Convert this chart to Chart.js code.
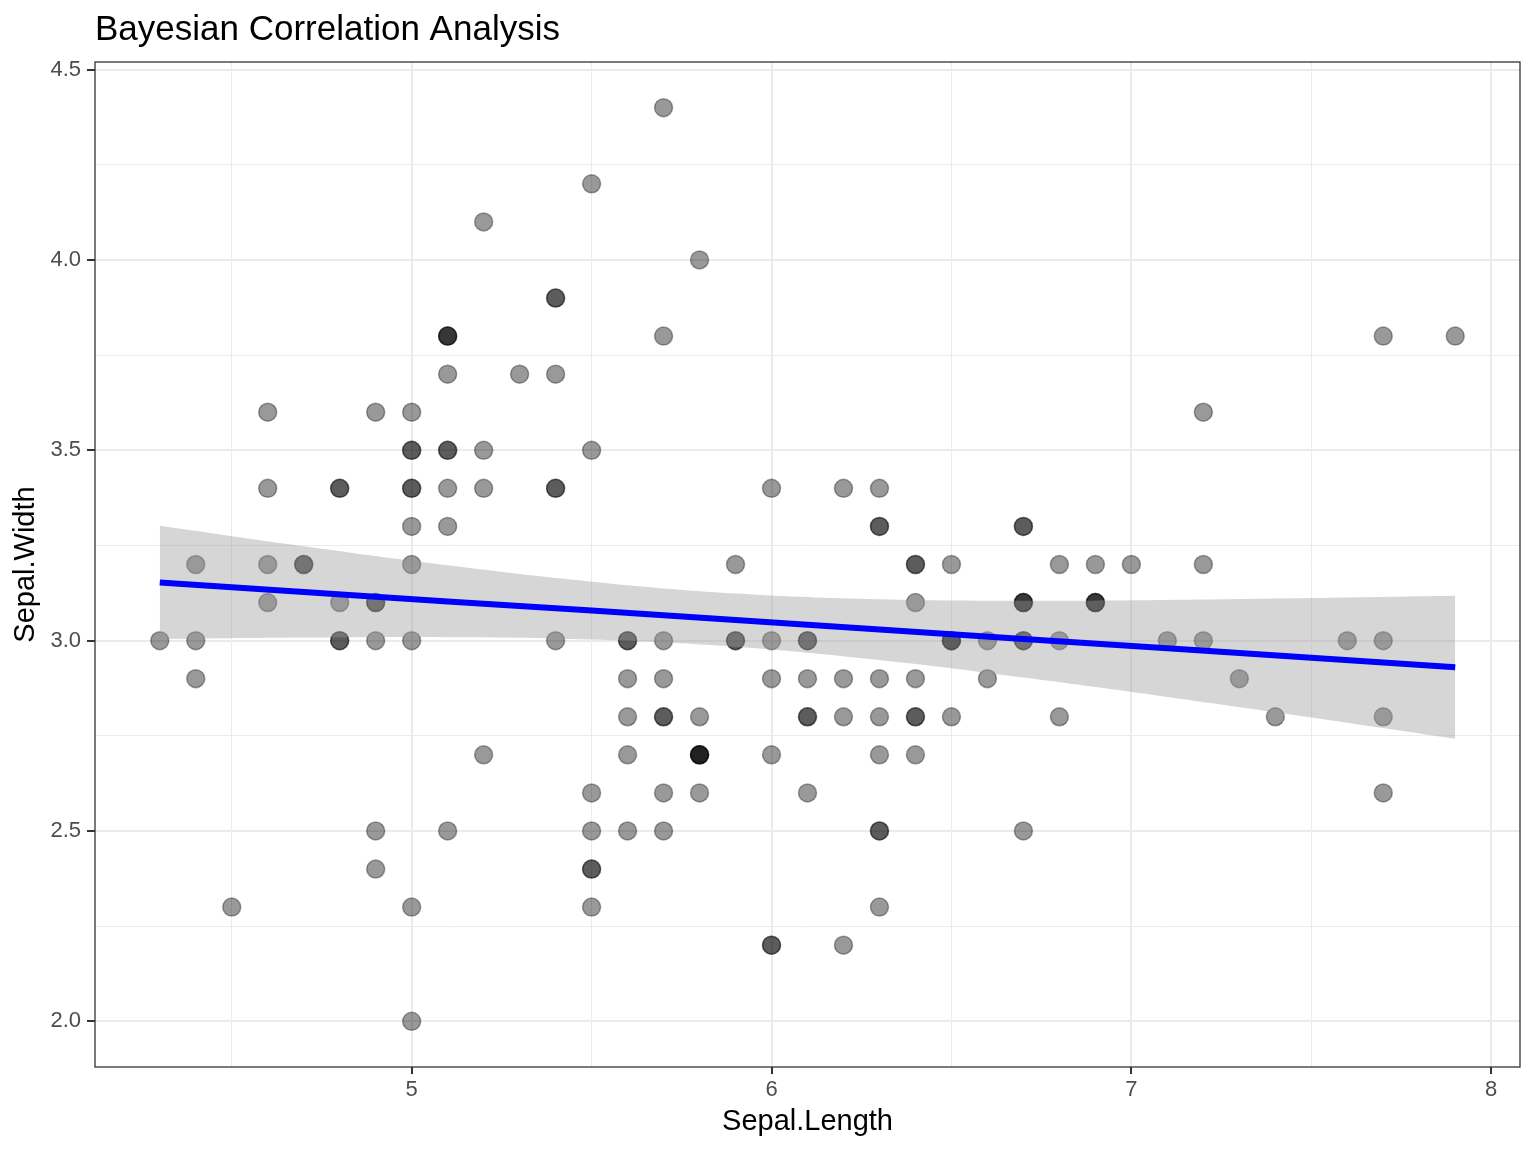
<!DOCTYPE html>
<html>
<head>
<meta charset="utf-8">
<script src="https://cdn.jsdelivr.net/npm/chart.js@4.4.1/dist/chart.umd.min.js"></script>
<style>
  html, body { margin: 0; padding: 0; background: #fff; }
  #c { display: block; }
</style>
</head>
<body>
<canvas id="c" width="1536" height="1152"></canvas>
<script>
// iris: Sepal.Length / Sepal.Width
const sepalLength = [
  5.1,4.9,4.7,4.6,5.0,5.4,4.6,5.0,4.4,4.9,5.4,4.8,4.8,4.3,5.8,5.7,5.4,5.1,5.7,5.1,
  5.4,5.1,4.6,5.1,4.8,5.0,5.0,5.2,5.2,4.7,4.8,5.4,5.2,5.5,4.9,5.0,5.5,4.9,4.4,5.1,
  5.0,4.5,4.4,5.0,5.1,4.8,5.1,4.6,5.3,5.0,
  7.0,6.4,6.9,5.5,6.5,5.7,6.3,4.9,6.6,5.2,5.0,5.9,6.0,6.1,5.6,6.7,5.6,5.8,6.2,5.6,
  5.9,6.1,6.3,6.1,6.4,6.6,6.8,6.7,6.0,5.7,5.5,5.5,5.8,6.0,5.4,6.0,6.7,6.3,5.6,5.5,
  5.5,6.1,5.8,5.0,5.6,5.7,5.7,6.2,5.1,5.7,
  6.3,5.8,7.1,6.3,6.5,7.6,4.9,7.3,6.7,7.2,6.5,6.4,6.8,5.7,5.8,6.4,6.5,7.7,7.7,6.0,
  6.9,5.6,7.7,6.3,6.7,7.2,6.2,6.1,6.4,7.2,7.4,7.9,6.4,6.3,6.1,7.7,6.3,6.4,6.0,6.9,
  6.7,6.9,5.8,6.8,6.7,6.7,6.3,6.5,6.2,5.9
];
const sepalWidth = [
  3.5,3.0,3.2,3.1,3.6,3.9,3.4,3.4,2.9,3.1,3.7,3.4,3.0,3.0,4.0,4.4,3.9,3.5,3.8,3.8,
  3.4,3.7,3.6,3.3,3.4,3.0,3.4,3.5,3.4,3.2,3.1,3.4,4.1,4.2,3.1,3.2,3.5,3.6,3.0,3.4,
  3.5,2.3,3.2,3.5,3.8,3.0,3.8,3.2,3.7,3.3,
  3.2,3.2,3.1,2.3,2.8,2.8,3.3,2.4,2.9,2.7,2.0,3.0,2.2,2.9,2.9,3.1,3.0,2.7,2.2,2.5,
  3.2,2.8,2.5,2.8,2.9,3.0,2.8,3.0,2.9,2.6,2.4,2.4,2.7,2.7,3.0,3.4,3.1,2.3,3.0,2.5,
  2.6,3.0,2.6,2.3,2.7,3.0,2.9,2.9,2.5,2.8,
  3.3,2.7,3.0,2.9,3.0,3.0,2.5,2.9,2.5,3.6,3.2,2.7,3.0,2.5,2.8,3.2,3.0,3.8,2.6,2.2,
  3.2,2.8,2.8,2.7,3.3,3.2,2.8,3.0,2.8,3.0,2.8,3.8,2.8,2.8,2.6,3.0,3.4,3.1,3.0,3.1,
  3.1,3.1,2.7,3.2,3.3,3.0,2.5,3.0,3.4,3.0
];

// fitted line and band
const bandX     = [4.3, 4.7, 5.1, 5.5, 5.9, 6.3, 6.7, 7.1, 7.5, 7.9];
const fitY      = [3.153, 3.128, 3.103, 3.079, 3.054, 3.029, 3.004, 2.980, 2.955, 2.930];
const bandUpper = [3.302, 3.248, 3.198, 3.155, 3.124, 3.109, 3.105, 3.107, 3.112, 3.118];
const bandLower = [3.004, 3.008, 3.009, 3.003, 2.984, 2.949, 2.903, 2.852, 2.798, 2.742];

const xTicks = [4.5, 5, 5.5, 6, 6.5, 7, 7.5, 8];
const xMajor = [5, 6, 7, 8];
const yTicks = [2.0, 2.25, 2.5, 2.75, 3.0, 3.25, 3.5, 3.75, 4.0, 4.25, 4.5];
const yMajor = [2.0, 2.5, 3.0, 3.5, 4.0, 4.5];

const titleText = 'Bayesian Correlation Analysis';
const FONT = '"Liberation Sans", Arial, Helvetica, sans-serif';

const isMajor = (list, v) => list.some(m => Math.abs(m - v) < 1e-9);

const points = sepalLength.map((x, i) => ({ x: x, y: sepalWidth[i] }));
const upper = bandX.map((x, i) => ({ x: x, y: bandUpper[i] }));
const lower = bandX.map((x, i) => ({ x: x, y: bandLower[i] }));
const fit = bandX.map((x, i) => ({ x: x, y: fitY[i] }));

const frameAndTitle = {
    id: 'frameAndTitle',
    afterDraw(chart) {
        const { ctx, chartArea: a } = chart;
        ctx.save();
        ctx.strokeStyle = '#333333';
        ctx.lineWidth = 1.3;
        ctx.strokeRect(a.left, a.top, a.right - a.left, a.bottom - a.top);
        ctx.fillStyle = '#000000';
        ctx.font = '35px ' + FONT;
        ctx.textBaseline = 'alphabetic';
        ctx.textAlign = 'left';
        ctx.fillText(titleText, a.left, 40);
        ctx.restore();
    }
};

const gridColor = '#EBEBEB';

new Chart(document.getElementById('c'), {
    type: 'scatter',
    data: {
        datasets: [
            {
                label: 'points',
                data: points,
                order: 3,
                pointRadius: 9,
                pointBackgroundColor: 'rgba(0,0,0,0.4)',
                pointBorderColor: 'rgba(0,0,0,0.35)',
                pointBorderWidth: 1.5,
                showLine: false
            },
            {
                label: 'upper',
                data: upper,
                order: 2,
                showLine: true,
                pointRadius: 0,
                borderWidth: 0,
                borderColor: 'rgba(0,0,0,0)',
                backgroundColor: 'rgba(153,153,153,0.4)',
                fill: '+1',
                tension: 0.4
            },
            {
                label: 'lower',
                data: lower,
                order: 2,
                showLine: true,
                pointRadius: 0,
                borderWidth: 0,
                borderColor: 'rgba(0,0,0,0)',
                fill: false,
                tension: 0.4
            },
            {
                label: 'fit',
                data: fit,
                order: 1,
                showLine: true,
                pointRadius: 0,
                borderColor: '#0000FF',
                borderWidth: 6,
                borderCapStyle: 'butt',
                fill: false
            }
        ]
    },
    options: {
        responsive: false,
        animation: false,
        devicePixelRatio: 1,
        layout: { padding: { top: 62, right: 16, left: 0, bottom: 0 } },
        plugins: {
            legend: { display: false },
            tooltip: { enabled: false },
            title: { display: false }
        },
        scales: {
            x: {
                type: 'linear',
                min: 4.12,
                max: 8.08,
                afterFit: s => { s.height = 85; },
                afterBuildTicks: s => { s.ticks = xTicks.map(v => ({ value: v })); },
                border: { display: false },
                grid: {
                    color: gridColor,
                    lineWidth: c => isMajor(xMajor, c.tick.value) ? 2 : 1,
                    tickLength: 7,
                    tickColor: c => isMajor(xMajor, c.tick.value) ? '#333333' : 'rgba(0,0,0,0)',
                    tickWidth: 2,
                    drawTicks: true
                },
                ticks: {
                    color: '#4D4D4D',
                    font: { family: FONT, size: 22 },
                    padding: 3,
                    maxRotation: 0,
                    autoSkip: false,
                    callback: v => isMajor(xMajor, v) ? String(v) : ''
                },
                title: {
                    display: true,
                    text: 'Sepal.Length',
                    color: '#000000',
                    font: { family: FONT, size: 29 },
                    padding: { top: 0, bottom: 13 }
                }
            },
            y: {
                type: 'linear',
                min: 1.88,
                max: 4.52,
                afterFit: s => { s.width = 95; },
                afterBuildTicks: s => { s.ticks = yTicks.map(v => ({ value: v })); },
                border: { display: false },
                grid: {
                    color: gridColor,
                    lineWidth: c => isMajor(yMajor, c.tick.value) ? 2 : 1,
                    tickLength: 8,
                    tickColor: c => isMajor(yMajor, c.tick.value) ? '#333333' : 'rgba(0,0,0,0)',
                    tickWidth: 2,
                    drawTicks: true
                },
                ticks: {
                    color: '#4D4D4D',
                    font: { family: FONT, size: 22 },
                    padding: 6,
                    autoSkip: false,
                    callback: v => isMajor(yMajor, v) ? v.toFixed(1) : ''
                },
                title: {
                    display: true,
                    text: 'Sepal.Width',
                    color: '#000000',
                    font: { family: FONT, size: 29 },
                    padding: { top: 9, bottom: 0 }
                }
            }
        }
    },
    plugins: [frameAndTitle]
});
</script>
</body>
</html>
